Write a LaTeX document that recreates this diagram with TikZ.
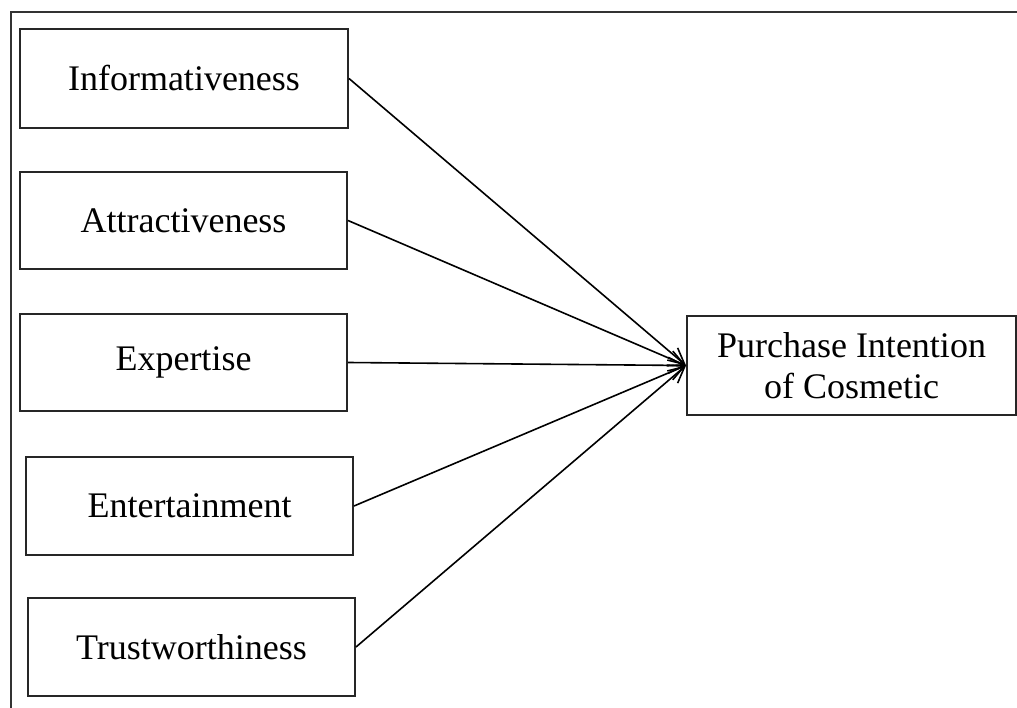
\documentclass[tikz,border=0pt]{standalone}
\usepackage{fontspec}
\setmainfont{Liberation Serif}
\usetikzlibrary{arrows.meta}
\begin{document}
\begin{tikzpicture}[x=1pt,y=-1pt,
  box/.style={draw=black!85,line width=2pt,inner sep=0pt,align=center,
    font=\fontsize{36}{41}\selectfont},
  conn/.style={line width=1.6pt,-{Straight Barb[length=16pt,width=16pt]}},
  frame/.style={draw=black!80,line width=2pt}]
\useasboundingbox (0,0) rectangle (1017,708);
\draw[frame] (11,708) -- (11,12.5) -- (1017,12.5);
\node[box,minimum width=328pt,minimum height=99pt] (inf) at (184,78.5) {Informativeness};
\node[box,minimum width=327pt,minimum height=97pt] (att) at (183.5,220.5) {Attractiveness};
\node[box,minimum width=327pt,minimum height=97pt] (exp) at (183.5,362.5) {Expertise};
\node[box,minimum width=327pt,minimum height=98pt] (ent) at (189.5,506) {Entertainment};
\node[box,minimum width=327pt,minimum height=98pt] (tru) at (191.5,647) {Trustworthiness};
\node[box,minimum width=329pt,minimum height=99pt] (pur) at (851.5,365.5) {Purchase Intention\\of Cosmetic};
\foreach \s in {inf,att,exp,ent,tru}
  \draw[conn] (\s.east) -- (pur.west);
\end{tikzpicture}
\end{document}
